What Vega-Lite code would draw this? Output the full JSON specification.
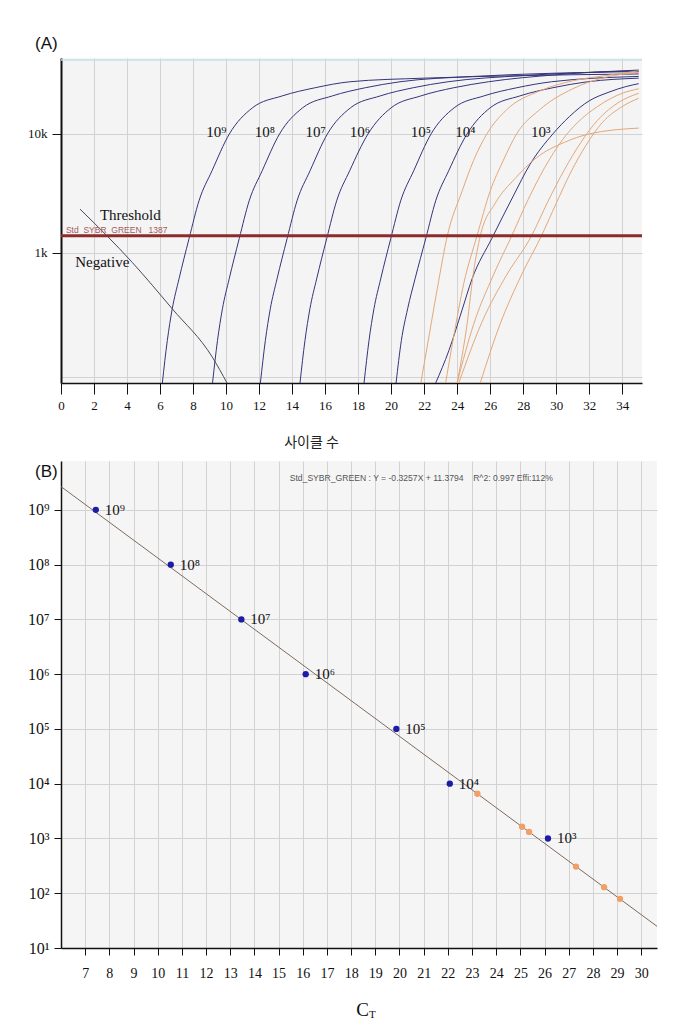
{
 "$schema": "https://vega.github.io/schema/vega-lite/v6.json",
 "padding": {"left": 27, "top": 35, "right": 5, "bottom": 5},
 "background": "white",
 "spacing": 12,
 "resolve": {"scale": {"color": "independent"}},
 "config": {"view": {"stroke": null}, "font": "Liberation Serif", "axis": {"labelColor": "#111", "tickColor": "#111", "domainColor": "#111", "gridColor": "#d2d2d2", "gridWidth": 1}},
 "datasets": {
  "curves": [
   {"curve":"s9","group":"std","cycle":6.14,"rfu":80},{"curve":"s9","group":"std","cycle":6.44,"rfu":182},{"curve":"s9","group":"std","cycle":6.74,"rfu":337},{"curve":"s9","group":"std","cycle":7.15,"rfu":603},{"curve":"s9","group":"std","cycle":7.76,"rfu":1318},{"curve":"s9","group":"std","cycle":8.36,"rfu":2735},{"curve":"s9","group":"std","cycle":9.15,"rfu":4900},{"curve":"s9","group":"std","cycle":10.2,"rfu":10000},{"curve":"s9","group":"std","cycle":11.6,"rfu":16600},{"curve":"s9","group":"std","cycle":13.4,"rfu":20900},{"curve":"s9","group":"std","cycle":15.4,"rfu":24500},{"curve":"s9","group":"std","cycle":17.5,"rfu":27500},{"curve":"s9","group":"std","cycle":22,"rfu":29500},{"curve":"s9","group":"std","cycle":28,"rfu":31000},{"curve":"s9","group":"std","cycle":35,"rfu":32000},
   {"curve":"s8","group":"std","cycle":9.18,"rfu":80},{"curve":"s8","group":"std","cycle":9.48,"rfu":182},{"curve":"s8","group":"std","cycle":9.78,"rfu":337},{"curve":"s8","group":"std","cycle":10.19,"rfu":603},{"curve":"s8","group":"std","cycle":10.8,"rfu":1318},{"curve":"s8","group":"std","cycle":11.4,"rfu":2735},{"curve":"s8","group":"std","cycle":12.19,"rfu":4900},{"curve":"s8","group":"std","cycle":13.24,"rfu":10000},{"curve":"s8","group":"std","cycle":14.64,"rfu":16600},{"curve":"s8","group":"std","cycle":16.44,"rfu":20900},{"curve":"s8","group":"std","cycle":18.44,"rfu":24500},{"curve":"s8","group":"std","cycle":20.54,"rfu":27500},{"curve":"s8","group":"std","cycle":25,"rfu":30500},{"curve":"s8","group":"std","cycle":30,"rfu":32500},{"curve":"s8","group":"std","cycle":35,"rfu":33500},
   {"curve":"s7","group":"std","cycle":12.08,"rfu":80},{"curve":"s7","group":"std","cycle":12.38,"rfu":182},{"curve":"s7","group":"std","cycle":12.68,"rfu":337},{"curve":"s7","group":"std","cycle":13.09,"rfu":603},{"curve":"s7","group":"std","cycle":13.7,"rfu":1318},{"curve":"s7","group":"std","cycle":14.3,"rfu":2735},{"curve":"s7","group":"std","cycle":15.09,"rfu":4900},{"curve":"s7","group":"std","cycle":16.14,"rfu":10000},{"curve":"s7","group":"std","cycle":17.54,"rfu":16600},{"curve":"s7","group":"std","cycle":19.34,"rfu":20900},{"curve":"s7","group":"std","cycle":21.34,"rfu":24500},{"curve":"s7","group":"std","cycle":23.44,"rfu":27500},{"curve":"s7","group":"std","cycle":28,"rfu":31000},{"curve":"s7","group":"std","cycle":35,"rfu":34000},
   {"curve":"s6","group":"std","cycle":14.48,"rfu":80},{"curve":"s6","group":"std","cycle":14.78,"rfu":182},{"curve":"s6","group":"std","cycle":15.08,"rfu":337},{"curve":"s6","group":"std","cycle":15.49,"rfu":603},{"curve":"s6","group":"std","cycle":16.1,"rfu":1318},{"curve":"s6","group":"std","cycle":16.7,"rfu":2735},{"curve":"s6","group":"std","cycle":17.49,"rfu":4900},{"curve":"s6","group":"std","cycle":18.6,"rfu":10000},{"curve":"s6","group":"std","cycle":20,"rfu":16600},{"curve":"s6","group":"std","cycle":21.8,"rfu":20900},{"curve":"s6","group":"std","cycle":23.8,"rfu":24500},{"curve":"s6","group":"std","cycle":25.9,"rfu":27500},{"curve":"s6","group":"std","cycle":30,"rfu":31500},{"curve":"s6","group":"std","cycle":35,"rfu":34500},
   {"curve":"s5","group":"std","cycle":18.36,"rfu":80},{"curve":"s5","group":"std","cycle":18.66,"rfu":182},{"curve":"s5","group":"std","cycle":18.96,"rfu":337},{"curve":"s5","group":"std","cycle":19.37,"rfu":603},{"curve":"s5","group":"std","cycle":19.98,"rfu":1318},{"curve":"s5","group":"std","cycle":20.58,"rfu":2735},{"curve":"s5","group":"std","cycle":21.37,"rfu":4900},{"curve":"s5","group":"std","cycle":22.42,"rfu":10000},{"curve":"s5","group":"std","cycle":23.82,"rfu":16600},{"curve":"s5","group":"std","cycle":25.62,"rfu":20900},{"curve":"s5","group":"std","cycle":27.62,"rfu":24500},{"curve":"s5","group":"std","cycle":29.72,"rfu":27500},{"curve":"s5","group":"std","cycle":35,"rfu":30500},
   {"curve":"s4","group":"std","cycle":20.3,"rfu":80},{"curve":"s4","group":"std","cycle":20.62,"rfu":182},{"curve":"s4","group":"std","cycle":21.0,"rfu":337},{"curve":"s4","group":"std","cycle":21.45,"rfu":603},{"curve":"s4","group":"std","cycle":22.1,"rfu":1318},{"curve":"s4","group":"std","cycle":22.7,"rfu":2735},{"curve":"s4","group":"std","cycle":23.49,"rfu":4900},{"curve":"s4","group":"std","cycle":24.6,"rfu":10000},{"curve":"s4","group":"std","cycle":26,"rfu":16600},{"curve":"s4","group":"std","cycle":27.8,"rfu":20900},{"curve":"s4","group":"std","cycle":29.8,"rfu":24500},{"curve":"s4","group":"std","cycle":31.9,"rfu":27500},{"curve":"s4","group":"std","cycle":35,"rfu":29500},
   {"curve":"s3","group":"std","cycle":22.7,"rfu":80},{"curve":"s3","group":"std","cycle":23.5,"rfu":150},{"curve":"s3","group":"std","cycle":24.3,"rfu":330},{"curve":"s3","group":"std","cycle":24.9,"rfu":600},{"curve":"s3","group":"std","cycle":26.1,"rfu":1318},{"curve":"s3","group":"std","cycle":27.4,"rfu":3000},{"curve":"s3","group":"std","cycle":28.4,"rfu":5500},{"curve":"s3","group":"std","cycle":29.8,"rfu":10000},{"curve":"s3","group":"std","cycle":30.8,"rfu":14000},{"curve":"s3","group":"std","cycle":32,"rfu":19000},{"curve":"s3","group":"std","cycle":33.2,"rfu":22500},{"curve":"s3","group":"std","cycle":34.2,"rfu":25000},{"curve":"s3","group":"std","cycle":35,"rfu":26500},
   {"curve":"o1","group":"sample","cycle":21.8,"rfu":80},{"curve":"o1","group":"sample","cycle":22.3,"rfu":200},{"curve":"o1","group":"sample","cycle":22.8,"rfu":500},{"curve":"o1","group":"sample","cycle":23.4,"rfu":1380},{"curve":"o1","group":"sample","cycle":24.3,"rfu":3300},{"curve":"o1","group":"sample","cycle":25.0,"rfu":6000},{"curve":"o1","group":"sample","cycle":25.8,"rfu":10000},{"curve":"o1","group":"sample","cycle":27,"rfu":16000},{"curve":"o1","group":"sample","cycle":29,"rfu":23000},{"curve":"o1","group":"sample","cycle":31,"rfu":28000},{"curve":"o1","group":"sample","cycle":33,"rfu":31000},{"curve":"o1","group":"sample","cycle":35,"rfu":34000},
   {"curve":"o2","group":"sample","cycle":23.3,"rfu":80},{"curve":"o2","group":"sample","cycle":23.8,"rfu":200},{"curve":"o2","group":"sample","cycle":24.4,"rfu":550},{"curve":"o2","group":"sample","cycle":25.2,"rfu":1380},{"curve":"o2","group":"sample","cycle":26.0,"rfu":3300},{"curve":"o2","group":"sample","cycle":26.8,"rfu":6000},{"curve":"o2","group":"sample","cycle":27.6,"rfu":10000},{"curve":"o2","group":"sample","cycle":29,"rfu":16000},{"curve":"o2","group":"sample","cycle":31,"rfu":24000},{"curve":"o2","group":"sample","cycle":33,"rfu":30000},{"curve":"o2","group":"sample","cycle":35,"rfu":33000},
   {"curve":"o3","group":"sample","cycle":24.0,"rfu":80},{"curve":"o3","group":"sample","cycle":24.6,"rfu":250},{"curve":"o3","group":"sample","cycle":25.0,"rfu":700},{"curve":"o3","group":"sample","cycle":25.4,"rfu":1380},{"curve":"o3","group":"sample","cycle":26.3,"rfu":2600},{"curve":"o3","group":"sample","cycle":27.5,"rfu":4200},{"curve":"o3","group":"sample","cycle":28.8,"rfu":6300},{"curve":"o3","group":"sample","cycle":30.5,"rfu":8500},{"curve":"o3","group":"sample","cycle":32,"rfu":10000},{"curve":"o3","group":"sample","cycle":35,"rfu":11200},
   {"curve":"o4","group":"sample","cycle":24.0,"rfu":80},{"curve":"o4","group":"sample","cycle":25.0,"rfu":250},{"curve":"o4","group":"sample","cycle":26.2,"rfu":650},{"curve":"o4","group":"sample","cycle":27.3,"rfu":1380},{"curve":"o4","group":"sample","cycle":28.3,"rfu":2800},{"curve":"o4","group":"sample","cycle":29.3,"rfu":5200},{"curve":"o4","group":"sample","cycle":30.4,"rfu":9000},{"curve":"o4","group":"sample","cycle":31.3,"rfu":12500},{"curve":"o4","group":"sample","cycle":32.5,"rfu":17000},{"curve":"o4","group":"sample","cycle":34,"rfu":22000},{"curve":"o4","group":"sample","cycle":35,"rfu":24000},
   {"curve":"o5","group":"sample","cycle":24.1,"rfu":80},{"curve":"o5","group":"sample","cycle":25.5,"rfu":260},{"curve":"o5","group":"sample","cycle":27.0,"rfu":650},{"curve":"o5","group":"sample","cycle":28.5,"rfu":1380},{"curve":"o5","group":"sample","cycle":29.5,"rfu":2700},{"curve":"o5","group":"sample","cycle":30.5,"rfu":5000},{"curve":"o5","group":"sample","cycle":31.5,"rfu":8500},{"curve":"o5","group":"sample","cycle":32.5,"rfu":13000},{"curve":"o5","group":"sample","cycle":33.8,"rfu":18500},{"curve":"o5","group":"sample","cycle":35,"rfu":22000},
   {"curve":"o6","group":"sample","cycle":25.4,"rfu":80},{"curve":"o6","group":"sample","cycle":26.6,"rfu":250},{"curve":"o6","group":"sample","cycle":27.9,"rfu":650},{"curve":"o6","group":"sample","cycle":29.1,"rfu":1380},{"curve":"o6","group":"sample","cycle":30.0,"rfu":2600},{"curve":"o6","group":"sample","cycle":30.9,"rfu":4800},{"curve":"o6","group":"sample","cycle":31.8,"rfu":8000},{"curve":"o6","group":"sample","cycle":32.8,"rfu":12500},{"curve":"o6","group":"sample","cycle":34,"rfu":17000},{"curve":"o6","group":"sample","cycle":35,"rfu":20000},
   {"curve":"neg","group":"neg","cycle":1.15,"rfu":2330},{"curve":"neg","group":"neg","cycle":4.32,"rfu":828},{"curve":"neg","group":"neg","cycle":6.74,"rfu":337},{"curve":"neg","group":"neg","cycle":9.17,"rfu":132},{"curve":"neg","group":"neg","cycle":10.06,"rfu":80}
  ],
  "labelsA": [
   {"cycle":9.42,"rfu":10400,"text":"10⁹"},{"cycle":12.35,"rfu":10400,"text":"10⁸"},{"cycle":15.43,"rfu":10400,"text":"10⁷"},{"cycle":18.1,"rfu":10400,"text":"10⁶"},{"cycle":21.8,"rfu":10400,"text":"10⁵"},{"cycle":24.5,"rfu":10400,"text":"10⁴"},{"cycle":29.07,"rfu":10400,"text":"10³"},
   {"cycle":4.2,"rfu":2080,"text":"Threshold"},{"cycle":2.5,"rfu":840,"text":"Negative"}
  ],
  "points": [
   {"ct":7.44,"qty":1e9,"group":"std","label":"10⁹"},{"ct":10.54,"qty":1e8,"group":"std","label":"10⁸"},{"ct":13.46,"qty":1e7,"group":"std","label":"10⁷"},{"ct":16.12,"qty":1e6,"group":"std","label":"10⁶"},{"ct":19.87,"qty":1e5,"group":"std","label":"10⁵"},{"ct":22.08,"qty":1e4,"group":"std","label":"10⁴"},{"ct":26.14,"qty":1e3,"group":"std","label":"10³"},
   {"ct":23.22,"qty":6560,"group":"sample","label":""},{"ct":25.07,"qty":1637,"group":"sample","label":""},{"ct":25.36,"qty":1318,"group":"sample","label":""},{"ct":27.3,"qty":307,"group":"sample","label":""},{"ct":28.46,"qty":129,"group":"sample","label":""},{"ct":29.12,"qty":79,"group":"sample","label":""}
  ],
  "fit": [{"ct":6,"qty":2.66e9},{"ct":30.65,"qty":24.9}]
 },
 "vconcat": [
  {
   "width": 581, "height": 325,
   "title": {"text": "(A)", "anchor": "start", "frame": "group", "dx": -26, "offset": 5, "font": "Liberation Sans", "fontSize": 17, "fontWeight": "normal", "color": "#111"},
   "view": {"fill": "#f4f4f4", "stroke": null},
   "layer": [
    {"data": {"name": "curves"},
     "mark": {"type": "line", "strokeWidth": 1, "clip": true, "interpolate": "monotone"},
     "encoding": {
      "x": {"field": "cycle", "type": "quantitative", "scale": {"domain": [0, 35.2], "nice": false, "zero": false},
            "axis": {"values": [0,2,4,6,8,10,12,14,16,18,20,22,24,26,28,30,32,34], "tickCount": 60, "format": "d", "title": "사이클 수", "titleFont": "Noto Sans CJK KR", "titleFontSize": 14, "titleFontWeight": "normal", "titleColor": "#222", "titleX": 250, "titleY": 59, "titleBaseline": "middle", "labelFont": "Liberation Serif", "labelFontSize": 13, "labelPadding": 5, "tickSize": 11, "domainWidth": 1.5, "labelFlush": false, "labelOverlap": false}},
      "y": {"field": "rfu", "type": "quantitative", "scale": {"type": "log", "domain": [80, 43600], "nice": false},
            "axis": {"values": [90, 1000, 10000], "tickCount": 60, "labelExpr": "datum.value >= 10000 ? '10k' : datum.value >= 1000 ? '1k' : ''", "tickOpacity": {"condition": {"test": "datum.value < 100", "value": 0}, "value": 1}, "title": null, "tickSize": 9, "labelPadding": 5, "labelFont": "Liberation Serif", "labelFontSize": 13, "domainWidth": 2}},
      "detail": {"field": "curve"},
      "color": {"field": "group", "type": "nominal", "scale": {"domain": ["std", "sample", "neg"], "range": ["#34347c", "#e3a87a", "#4a4a5a"]}, "legend": null}
     }},
    {"data": {"values": [{"top": 42000}]}, "mark": {"type": "rule", "color": "#c3e2ec", "strokeWidth": 1.5}, "encoding": {"y": {"field": "top", "type": "quantitative"}}},
    {"data": {"values": [{"threshold": 1387, "cycle": 0.3, "text": "Std_SYBR_GREEN\u00a0\u00a0 1387"}]}, "layer": [
      {"mark": {"type": "rule", "color": "#8b2b2b", "strokeWidth": 3}, "encoding": {"y": {"field": "threshold", "type": "quantitative"}}},
      {"mark": {"type": "text", "align": "left", "baseline": "bottom", "dy": -1, "font": "Liberation Sans", "fontSize": 8.5, "color": "#a55a5a"}, "encoding": {"x": {"field": "cycle", "type": "quantitative"}, "y": {"field": "threshold", "type": "quantitative"}, "text": {"field": "text"}}}
    ]},
    {"data": {"name": "labelsA"}, "mark": {"type": "text", "font": "Liberation Serif", "fontSize": 15, "color": "#111", "baseline": "middle"},
     "encoding": {"x": {"field": "cycle", "type": "quantitative"}, "y": {"field": "rfu", "type": "quantitative"}, "text": {"field": "text"}}}
   ]
  },
  {
   "width": 596, "height": 487,
   "title": {"text": "(B)", "anchor": "start", "frame": "group", "dx": -26, "offset": -37, "baseline": "bottom", "font": "Liberation Sans", "fontSize": 17, "fontWeight": "normal", "color": "#111"},
   "view": {"fill": "#f5f5f5", "stroke": null},
   "layer": [
    {"data": {"name": "fit"}, "mark": {"type": "line", "color": "#7d6b5e", "strokeWidth": 1},
     "encoding": {
      "x": {"field": "ct", "type": "quantitative", "scale": {"domain": [6, 30.65], "nice": false, "zero": false},
            "axis": {"values": [7,8,9,10,11,12,13,14,15,16,17,18,19,20,21,22,23,24,25,26,27,28,29,30], "tickCount": 60, "format": "d", "labelOverlap": false, "title": "C", "titleFont": "Liberation Serif", "titleFontSize": 19, "titleFontWeight": "normal", "titleColor": "#111", "titleX": 301, "titleY": 61, "titleBaseline": "middle", "labelFont": "Liberation Serif", "labelFontSize": 14, "labelPadding": 11, "tickSize": 7, "domainWidth": 1.5}},
      "y": {"field": "qty", "type": "quantitative", "scale": {"type": "log", "domain": [10, 7.8e9], "nice": false},
            "axis": {"values": [10, 100, 1000, 10000, 100000, 1000000, 10000000, 100000000, 1000000000], "tickCount": 60, "labelOverlap": false, "labelExpr": "'10' + ['⁰','¹','²','³','⁴','⁵','⁶','⁷','⁸','⁹'][round(log(datum.value)/LN10)]", "title": null, "tickSize": 7, "labelPadding": 5, "labelFont": "Liberation Serif", "labelFontSize": 16, "domainWidth": 1.5}}
     }},
    {"data": {"name": "points"}, "mark": {"type": "circle", "size": 40, "opacity": 1},
     "encoding": {"x": {"field": "ct", "type": "quantitative"}, "y": {"field": "qty", "type": "quantitative"},
      "color": {"field": "group", "type": "nominal", "scale": {"domain": ["std", "sample"], "range": ["#1c1ca8", "#f0a066"]}, "legend": null}}},
    {"data": {"name": "points"}, "transform": [{"filter": "datum.label != ''"}], "mark": {"type": "text", "align": "left", "baseline": "middle", "dx": 9, "font": "Liberation Serif", "fontSize": 15, "color": "#111"},
     "encoding": {"x": {"field": "ct", "type": "quantitative"}, "y": {"field": "qty", "type": "quantitative"}, "text": {"field": "label"}}},
    {"data": {"values": [{"ct": 20.9, "qty": 3.8e9, "text": "Std_SYBR_GREEN : Y = -0.3257X + 11.3794\u00a0\u00a0\u00a0\u00a0R^2: 0.997 Effi:112%"}]},
     "mark": {"type": "text", "font": "Liberation Sans", "fontSize": 8.6, "color": "#555", "baseline": "middle"},
     "encoding": {"x": {"field": "ct", "type": "quantitative"}, "y": {"field": "qty", "type": "quantitative"}, "text": {"field": "text"}}},
    {"data": {"values": [{"ct": 18.88, "qty": 10, "text": "T"}]},
     "mark": {"type": "text", "font": "Liberation Serif", "fontSize": 11, "color": "#111", "baseline": "middle", "dy": 67},
     "encoding": {"x": {"field": "ct", "type": "quantitative"}, "y": {"field": "qty", "type": "quantitative"}, "text": {"field": "text"}}}
   ]
  }
 ]
}
